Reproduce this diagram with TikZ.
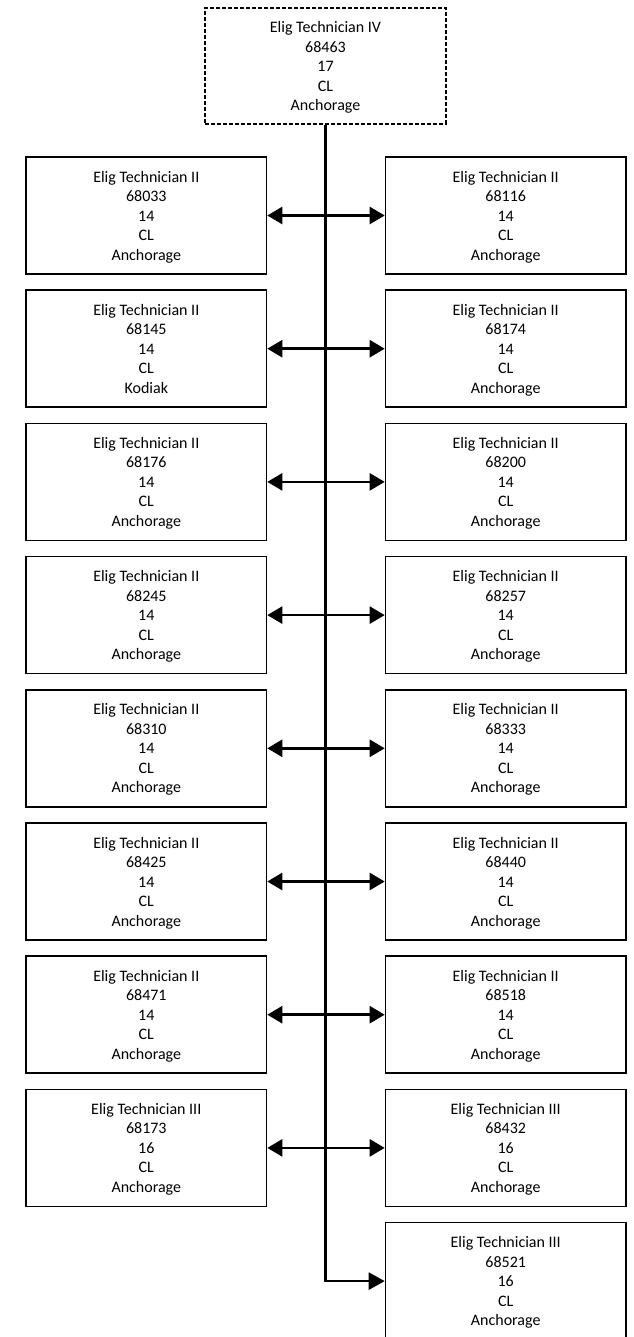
\documentclass[tikz,border=0pt]{standalone}
\usepackage{fontspec}
\setmainfont{Carlito}
\usetikzlibrary{arrows.meta, positioning}

\begin{document}
\begin{tikzpicture}[x=1pt,y=-1pt]
\tikzset{
  post/.style={draw, line width=1.5pt, minimum width=240.5pt, minimum height=117pt,
    inner sep=0pt, align=center, text depth=-1.8pt, font=\fontsize{16}{19.5}\selectfont},
  vacant/.style={post, dash pattern=on 4pt off 2pt, line width=1.8pt, minimum height=116pt},
  trunk/.style={line width=3.5pt},
  link/.style={line width=2.5pt, {Triangle[length=15pt,width=17pt]}-{Triangle[length=15pt,width=17pt]}},
  lastlink/.style={line width=2.5pt, -{Triangle[length=16pt,width=17pt]}}
}
\useasboundingbox (0,0) rectangle (633,1337);

\node[vacant] (T) at (325.5,66) {Elig Technician IV\\68463\\17\\CL\\Anchorage};

\node[post] (L1) at (146.3,215.5) {Elig Technician II\\68033\\14\\CL\\Anchorage};
\node[post] (R1) at (505.7,215.5) {Elig Technician II\\68116\\14\\CL\\Anchorage};
\node[post] (L2) at (146.3,348.7) {Elig Technician II\\68145\\14\\CL\\Kodiak};
\node[post] (R2) at (505.7,348.7) {Elig Technician II\\68174\\14\\CL\\Anchorage};
\node[post] (L3) at (146.3,481.9) {Elig Technician II\\68176\\14\\CL\\Anchorage};
\node[post] (R3) at (505.7,481.9) {Elig Technician II\\68200\\14\\CL\\Anchorage};
\node[post] (L4) at (146.3,615.1) {Elig Technician II\\68245\\14\\CL\\Anchorage};
\node[post] (R4) at (505.7,615.1) {Elig Technician II\\68257\\14\\CL\\Anchorage};
\node[post] (L5) at (146.3,748.3) {Elig Technician II\\68310\\14\\CL\\Anchorage};
\node[post] (R5) at (505.7,748.3) {Elig Technician II\\68333\\14\\CL\\Anchorage};
\node[post] (L6) at (146.3,881.5) {Elig Technician II\\68425\\14\\CL\\Anchorage};
\node[post] (R6) at (505.7,881.5) {Elig Technician II\\68440\\14\\CL\\Anchorage};
\node[post] (L7) at (146.3,1014.7) {Elig Technician II\\68471\\14\\CL\\Anchorage};
\node[post] (R7) at (505.7,1014.7) {Elig Technician II\\68518\\14\\CL\\Anchorage};
\node[post] (L8) at (146.3,1147.9) {Elig Technician III\\68173\\16\\CL\\Anchorage};
\node[post] (R8) at (505.7,1147.9) {Elig Technician III\\68432\\16\\CL\\Anchorage};
\node[post] (R9) at (505.7,1281.1) {Elig Technician III\\68521\\16\\CL\\Anchorage};

\coordinate (Z) at (T.south |- R9.west);

\draw[trunk] (T.south) -- (Z);
\draw[lastlink] ([xshift=-1.25pt]Z) -- (R9.west);

\draw[link] (L1.east) -- (R1.west);
\draw[link] (L2.east) -- (R2.west);
\draw[link] (L3.east) -- (R3.west);
\draw[link] (L4.east) -- (R4.west);
\draw[link] (L5.east) -- (R5.west);
\draw[link] (L6.east) -- (R6.west);
\draw[link] (L7.east) -- (R7.west);
\draw[link] (L8.east) -- (R8.west);
\end{tikzpicture}
\end{document}
